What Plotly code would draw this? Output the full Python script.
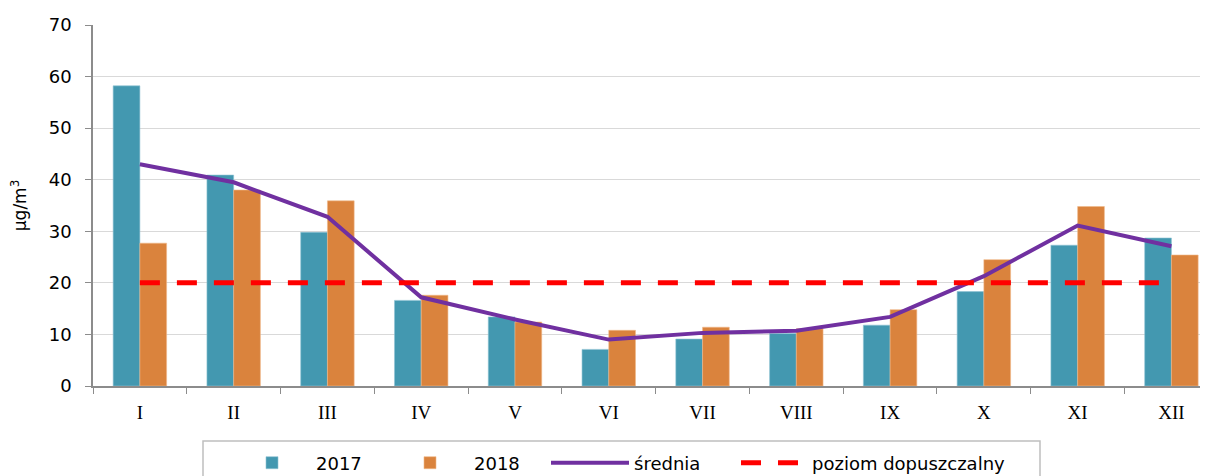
import plotly.graph_objects as go

months = ["I", "II", "III", "IV", "V", "VI", "VII", "VIII", "IX", "X", "XI", "XII"]
v2017 = [58.2, 40.9, 29.8, 16.6, 13.4, 7.1, 9.1, 10.2, 11.8, 18.3, 27.3, 28.7]
v2018 = [27.7, 38.0, 35.9, 17.6, 12.4, 10.8, 11.4, 11.1, 14.8, 24.5, 34.8, 25.4]
srednia = [43.0, 39.5, 32.8, 17.2, 12.9, 9.0, 10.3, 10.7, 13.4, 21.3, 31.1, 27.1]
poziom = [20] * 12
y_ticks = [0, 10, 20, 30, 40, 50, 60, 70]

# page offset of the figure (default body margin)
OFF = 8
W, H = 1200, 468
# plot area in page pixels: x 93..1208, y 25..386
PL, PR, PT, PB = 93 - OFF, 1208 - OFF, 25 - OFF, 386 - OFF

def px_x(p):
    return (p - OFF - PL) / (PR - PL)

def px_y(p):
    return (PB - (p - OFF)) / (PB - PT)

fig = go.Figure()
fig.add_trace(go.Bar(x=months, y=v2017, name="2017", legend="legend",
                     marker=dict(color="#4398B0", line=dict(width=0.6, color="#8fc3d3"))))
fig.add_trace(go.Bar(x=months, y=v2018, name="2018", legend="legend2",
                     marker=dict(color="#DA833D", line=dict(width=0.6, color="#f0b88a"))))
fig.add_trace(go.Scatter(x=months, y=srednia, name="średnia", mode="lines", legend="legend3",
                         line=dict(color="#7030A0", width=4)))
fig.add_trace(go.Scatter(x=months, y=poziom, name="poziom dopuszczalny", mode="lines", legend="legend4",
                         line=dict(color="#FF0000", width=5, dash="20px,17px")))

leg_common = dict(orientation="h", xanchor="left", yanchor="middle", y=px_y(463),
                  bgcolor="rgba(0,0,0,0)", borderwidth=0, font=dict(size=18))

fig.update_layout(
    width=W, height=H,
    margin=dict(l=PL, r=W - PR, t=PT, b=H - PB, autoexpand=False),
    paper_bgcolor="white", plot_bgcolor="white",
    barmode="group", bargap=0.43, bargroupgap=0,
    font=dict(family="DejaVu Sans", size=18, color="#000"),
    showlegend=True,
    legend=dict(x=px_x(228), itemwidth=78, **leg_common),
    legend2=dict(x=px_x(386), itemwidth=78, **leg_common),
    legend3=dict(x=px_x(546), itemwidth=78, **leg_common),
    legend4=dict(x=px_x(736), itemwidth=66, **leg_common),
    shapes=[dict(type="rect", xref="paper", yref="paper",
                 x0=px_x(203), x1=px_x(1040), y0=px_y(441), y1=px_y(500),
                 line=dict(color="#bfbfbf", width=1.5), fillcolor="rgba(0,0,0,0)", layer="below")],
    xaxis=dict(type="category", range=[-0.5, 11.39], showline=True, linecolor="#8c8c8c", linewidth=1.5,
               ticks="outside", tickson="boundaries", ticklen=6, tickcolor="#8c8c8c",
               ticklabelstandoff=8,
               tickfont=dict(family="Liberation Serif", size=19), showgrid=False),
    yaxis=dict(range=[0, 70], tickvals=y_ticks, showline=True, linecolor="#8c8c8c", linewidth=1.5,
               ticks="outside", ticklen=6, tickcolor="#8c8c8c", gridcolor="#d9d9d9", gridwidth=1,
               zeroline=False, tickfont=dict(size=18), ticklabelstandoff=10,
               title=dict(text="µg/m<sup>3</sup>", font=dict(size=17), standoff=20)),
)

fig.write_html("out.html")
